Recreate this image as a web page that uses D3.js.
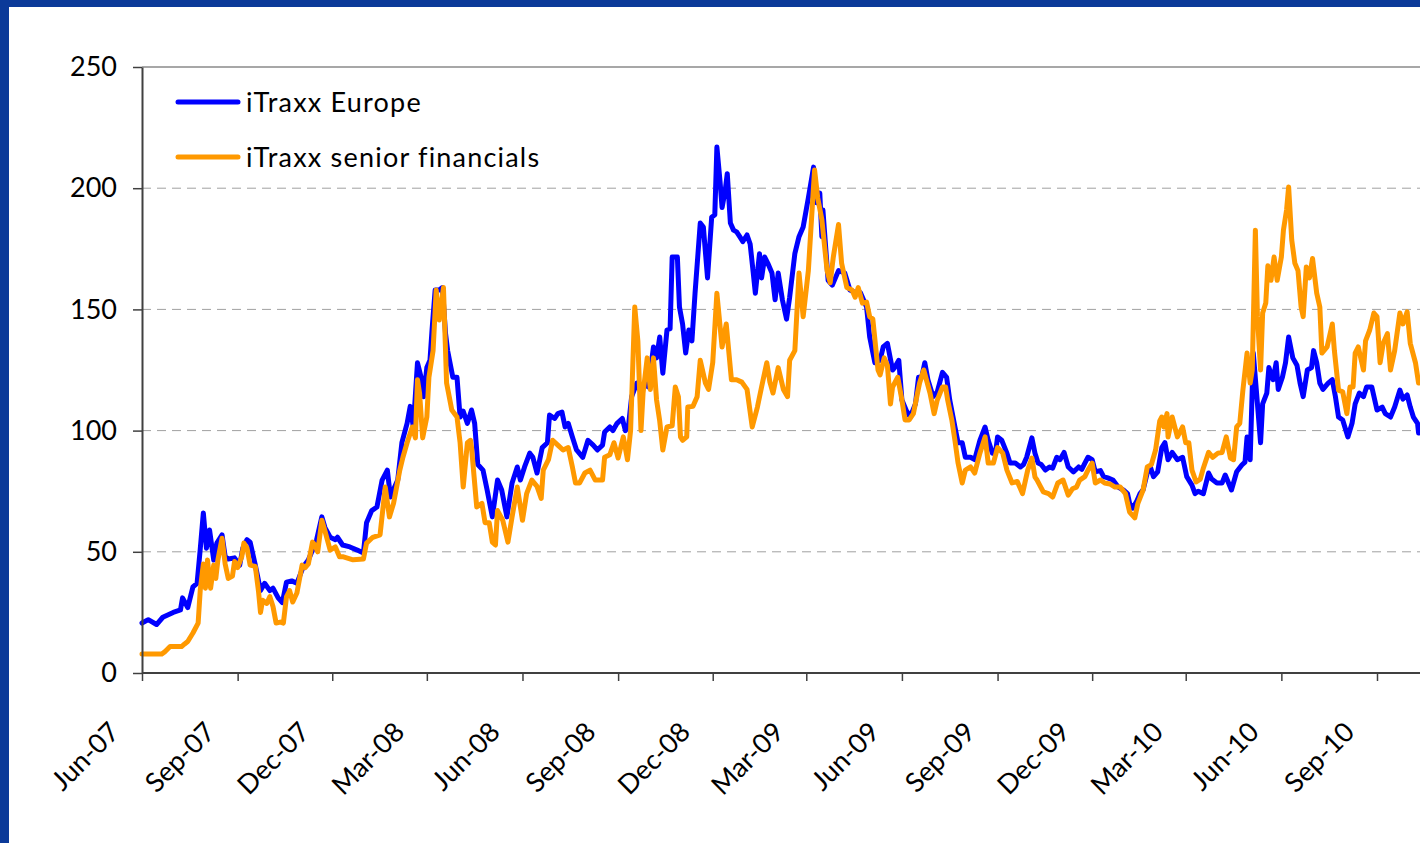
<!DOCTYPE html>
<html>
<head>
<meta charset="utf-8">
<script src="https://cdn.jsdelivr.net/npm/d3@7"></script>
<style>
    html, body { margin: 0; padding: 0; background: #0b3a99; overflow: hidden; }
    svg { display: block; }
</style>
</head>
<body>
<script>
// values: [days since start, spread in bp]
const startDate = "2007-06-01";
const tickLabels = ["Jun-07", "Sep-07", "Dec-07", "Mar-08", "Jun-08", "Sep-08", "Dec-08",
    "Mar-09", "Jun-09", "Sep-09", "Dec-09", "Mar-10", "Jun-10", "Sep-10"];
const yTicks = [0, 50, 100, 150, 200, 250];
const seriesNames = ["iTraxx Europe", "iTraxx senior financials"];
const seriesColours = ["#0000ff", "#ff9900"];

const europe = [[0,20.6],[6,22],[14,20],[20,23],[30,25],[37,26],[39,31],[44,27],[49,35.5],[53,37],[56,51],[59,66],[62,51.5],[65,59],[69,46.6],[72,53.6],[77,57],[80,48],[83,47],[89,47.5],[94,44.5],[97,51.5],[101,55],[104,54],[109,44.5],[114,34],[118,37],[123,34],[126,35],[131,31],[135,29],[139,37.5],[144,38],[149,37],[152,40.4],[155,43.7],[160,46.6],[164,50.7],[168,55],[173,64.4],[176,60],[181,56],[186,55],[188,56],[193,52.8],[200,52],[207,50.7],[213,49.5],[216,62],[221,67],[226,68.5],[231,79.6],[236,83.7],[239,72.6],[243,76.7],[246,79.6],[250,95],[255,103],[258,110],[261,101.5],[265,128],[269,121],[271,114],[274,126],[277,129],[279,141.5],[282,158],[286,158],[289,159],[292,140],[294,133],[299,122],[303,122],[306,105.6],[309,108],[313,103],[317,108.5],[320,103],[323,86],[328,83.7],[332,75.5],[337,64.4],[342,79.6],[346,75.5],[351,64.4],[356,78.4],[361,85],[364,79.6],[368,85],[373,90.7],[376,89],[380,82.5],[385,93],[390,95],[392,106.4],[397,105],[400,107],[404,107.6],[407,101.5],[410,103],[414,97.4],[418,92],[424,89],[429,96],[434,94],[438,92],[443,94],[445,99.4],[450,101.5],[453,100],[457,103],[462,105],[465,100],[468,102],[471,114],[476,119.6],[479,117],[483,119.6],[487,118],[492,134.5],[495,130],[498,138.6],[501,123.7],[505,141.5],[508,142],[510,171.6],[515,171.6],[517,151],[520,144],[523,132],[526,141.5],[529,137],[532,156.7],[537,185.6],[540,184],[544,163],[548,188],[551,189],[553,217],[556,203],[558,192],[561,199],[563,206],[566,185.6],[569,182.7],[572,182],[575,180],[578,178],[582,180.7],[585,177],[588,165],[590,156.7],[592,165],[594,173],[596,163],[599,171.6],[602,169],[606,165],[609,154],[612,165],[616,154],[620,146],[623,155],[628,173],[632,180],[636,184],[641,196],[646,208.7],[649,194],[652,198],[654,180],[655,191],[660,162],[664,160],[670,166],[676,165],[681,158],[686,157],[691,157],[697,151],[700,138.6],[705,128],[710,129],[713,134.5],[717,136],[722,125],[724,126],[728,129],[731,112.6],[735,108.5],[739,105.6],[744,111],[747,122],[750,122],[753,128],[756,121],[761,114],[765,116],[770,124],[774,122],[777,112.6],[782,101.5],[785,95],[789,95],[792,89],[797,89],[801,88],[806,96],[811,101.5],[814,96],[818,90.7],[821,90.7],[823,97.4],[827,96],[832,90.7],[835,86.6],[840,86.6],[845,85],[848,86],[851,89],[856,97],[859,90.7],[862,86.6],[865,86],[869,83.7],[873,85],[876,84.5],[880,89],[883,88],[887,91],[891,85],[896,83],[901,85],[904,84],[907,86.6],[910,89],[914,88],[917,83],[922,83.5],[925,81],[929,80.5],[934,79.6],[939,76.7],[944,75.5],[948,74],[950,70],[953,68],[957,71],[960,74],[963,75.5],[967,82.5],[970,85],[973,81],[977,83],[981,93],[984,95],[987,88],[991,91],[996,88],[1001,89],[1005,81],[1010,77.5],[1013,74],[1016,75],[1021,74],[1026,82.5],[1029,80],[1034,78.4],[1039,78.4],[1042,81.7],[1048,75.5],[1053,83],[1058,85.8],[1061,87],[1063,97.4],[1066,88],[1069,132],[1073,111],[1076,95],[1078,111],[1082,115.5],[1084,126],[1088,121],[1091,128],[1093,117],[1097,122],[1100,128],[1103,138.6],[1107,130],[1111,127],[1114,119.6],[1117,114],[1121,125],[1125,126],[1127,133],[1130,128],[1133,119.6],[1136,117],[1141,119.6],[1145,121],[1148,114],[1151,105.6],[1155,104.4],[1160,97.4],[1164,103],[1167,111],[1171,115.5],[1175,114],[1178,118],[1183,118],[1188,108.5],[1193,109.7],[1196,107],[1201,105.6],[1205,109.7],[1210,116.7],[1213,113],[1217,114.7],[1220,109.7],[1223,105.6],[1227,103],[1228,99]];

const financials = [[0,7.8],[19,7.8],[22,8.8],[27,10.9],[38,10.9],[41,12],[44,13],[49,16.5],[54,20.6],[56,34],[59,45],[61,35],[63,46.6],[66,35],[69,44.5],[71,39],[73,46.6],[77,55.6],[80,45],[83,39],[87,40],[89,46],[92,43.5],[96,48],[98,53.6],[101,51.5],[104,44.5],[109,44],[112,34],[114,25],[116,30],[120,28.7],[123,31.5],[126,27.4],[129,20.6],[133,21],[136,20.6],[139,31.5],[142,34],[145,29.3],[149,33],[154,44.5],[157,43.5],[160,45],[164,54],[166,53],[169,50],[173,63],[176,58.6],[181,50.7],[186,52],[190,48],[193,48],[203,46.7],[213,47],[216,53.6],[222,56],[229,57],[234,76.7],[238,64.4],[242,70],[248,83.7],[251,89],[255,95],[260,101.5],[263,97],[265,121],[267,115.5],[270,97],[274,105.6],[276,122],[280,133],[283,158],[286,145.6],[290,159],[293,119.6],[298,108.5],[303,105.6],[306,95],[309,76.7],[313,95],[316,96],[317,93],[322,68.5],[327,70],[330,62],[334,62],[337,54],[340,52.8],[342,67],[347,63],[352,54],[356,64.4],[361,76.7],[366,63],[370,74],[375,79.6],[380,77],[384,72],[386,83.7],[391,88],[395,96],[400,94],[405,92],[410,93],[414,85],[417,78.4],[421,78.4],[426,82.5],[431,83.7],[436,79.6],[443,79.6],[445,89],[450,90],[454,95],[458,88.7],[463,97.4],[467,88],[470,100],[474,151],[477,137],[480,100],[482,115.5],[486,130],[489,117],[492,130],[495,112.6],[498,104],[501,92],[505,101.5],[510,102],[513,118],[516,114],[518,97.4],[520,96],[524,97.4],[525,109.7],[530,110],[534,114],[537,129],[542,119.6],[545,117],[549,128],[553,156.7],[558,134.5],[562,144],[567,121],[572,121],[577,120],[582,117],[587,101.5],[592,109.7],[596,118],[601,128],[604,120],[607,115.5],[612,126],[617,117],[621,114],[623,129],[628,133],[632,165],[636,147],[641,166],[645,194],[647,207.5],[650,196],[654,187],[659,166],[662,161],[665,171.6],[670,185],[673,169],[678,159],[683,158],[686,155],[689,159],[693,152.6],[697,153],[700,147],[703,146],[708,125],[710,123],[714,130],[717,127],[720,111],[722,118],[727,122],[731,112.6],[734,104.4],[738,104.4],[742,107],[746,115.5],[748,119.6],[752,125],[758,115.5],[762,107],[765,112.6],[770,118],[773,118],[775,112.6],[779,104.4],[782,96],[785,86.6],[789,78.4],[792,83.7],[797,85],[801,82.5],[806,90.7],[811,97.4],[814,86.6],[819,86.6],[823,93],[828,90.7],[832,83.7],[837,78.4],[842,79],[847,74],[852,83.7],[856,88.7],[859,80.8],[861,79.6],[867,74.7],[872,74],[876,72.6],[881,78.4],[886,79.6],[891,73.4],[895,76],[899,76.7],[902,79.6],[907,81],[910,83.7],[914,86.6],[917,78.4],[922,79.6],[926,78.4],[931,78],[936,76.7],[941,76.7],[946,74],[950,66.4],[955,64],[958,70],[963,75.5],[967,85],[971,86],[975,92],[979,104],[981,105.6],[983,101.5],[986,107],[987,97.4],[991,105.6],[996,97.4],[1001,101.5],[1004,95],[1007,95],[1010,83.7],[1014,78.8],[1018,80],[1021,84.6],[1026,91],[1030,89],[1035,90.7],[1039,91],[1043,97.4],[1047,88.7],[1050,88],[1053,101.5],[1056,103],[1059,116.7],[1063,132],[1066,119.6],[1068,125],[1071,182.7],[1073,147],[1076,125],[1078,148.5],[1081,152.6],[1083,168],[1086,162],[1089,171.6],[1092,162],[1096,171.6],[1098,182.7],[1101,191],[1103,200.5],[1106,178.6],[1109,169],[1112,166],[1115,151],[1117,147],[1120,167.5],[1123,163],[1126,171],[1130,156.7],[1133,151],[1135,132],[1140,134.5],[1145,144],[1147,133],[1151,116.7],[1155,116],[1159,107],[1162,118],[1165,118],[1167,132],[1170,134.5],[1175,125],[1177,137],[1181,141.5],[1185,148.5],[1188,147],[1191,128],[1194,136],[1198,140],[1201,125],[1205,133],[1210,148.5],[1213,144],[1217,149],[1220,136],[1225,128],[1228,119.6]];

let width = 1420,
    height = 843,
    margins = {top: 67, left: 142, bottom: 673, right: 1440},
    font = "Lato, 'Open Sans', sans-serif";

let parseDay = d3.timeParse("%Y-%m-%d"),
    parseTick = d3.timeParse("%b-%y");
let start = parseDay(startDate);
let tickDates = tickLabels.map(parseTick);

// Jun-07 sits on the y axis, Sep-10 is the last labelled tick
let xScale = d3.scaleTime([tickDates[0], tickDates[tickDates.length - 1]], [margins.left, 1377]);
let yScale = d3.scaleLinear([0, 250], [margins.bottom, margins.top]);

let chart = d3.select("body").append("svg")
    .attr("width", width)
    .attr("height", height);

// blue slide frame + white panel
chart.append("rect").attr("width", width).attr("height", height).attr("fill", "#0b3a99");
chart.append("rect").attr("x", 9).attr("y", 7).attr("width", width).attr("height", height).attr("fill", "#ffffff");

// gridlines
chart.append("g").selectAll("line")
    .data(yTicks.filter(d => d > 0))
    .join("line")
    .attr("x1", margins.left).attr("x2", margins.right)
    .attr("y1", d => yScale(d)).attr("y2", d => yScale(d))
    .attr("stroke", d => d == 250 ? "#8a8a8a" : "#a0a0a0")
    .attr("stroke-width", d => d == 250 ? 1.5 : 1)
    .attr("stroke-dasharray", d => d == 250 ? null : "9,6");

// series
let line = d3.line()
    .x(d => xScale(d3.timeDay.offset(start, d[0])))
    .y(d => yScale(d[1]));

chart.append("g").selectAll("path")
    .data([europe, financials])
    .join("path")
    .attr("d", line)
    .attr("fill", "none")
    .attr("stroke", (d, i) => seriesColours[i])
    .attr("stroke-width", 5)
    .attr("stroke-linejoin", "round")
    .attr("stroke-linecap", "round");

// y axis
let yAxis = chart.append("g")
    .attr("transform", translate(margins.left, 0))
    .call(d3.axisLeft(yScale).tickValues(yTicks).tickSize(9).tickPadding(16).tickSizeOuter(0));
yAxis.select(".domain").attr("stroke", "#404040").attr("stroke-width", 2);
yAxis.selectAll(".tick line").attr("stroke", "#404040").attr("stroke-width", 1.5);
yAxis.selectAll("text")
    .attr("font-family", font)
    .attr("font-size", 27)
    .attr("fill", "#000");

// x axis
let xAxis = chart.append("g")
    .attr("transform", translate(0, margins.bottom))
    .call(d3.axisBottom(xScale).tickValues(tickDates).tickSize(8).tickSizeOuter(0)
        .tickFormat((d, i) => tickLabels[i]));
xAxis.select(".domain")
    .attr("d", `M${margins.left},0H${margins.right}`)
    .attr("stroke", "#404040").attr("stroke-width", 2);
xAxis.selectAll(".tick line").attr("stroke", "#404040").attr("stroke-width", 1.5);
xAxis.selectAll("text")
    .attr("font-family", font)
    .attr("font-size", 27)
    .attr("fill", "#000")
    .attr("text-anchor", "end")
    .attr("x", 0).attr("y", 0).attr("dy", "0.35em")
    .attr("transform", "translate(-28,54) rotate(-45)");

// legend
let legend = chart.append("g").selectAll("g")
    .data(seriesNames)
    .join("g")
    .attr("transform", (d, i) => translate(178, 102 + i * 55));
legend.append("line")
    .attr("x1", 0).attr("x2", 60)
    .attr("stroke", (d, i) => seriesColours[i])
    .attr("stroke-width", 5)
    .attr("stroke-linecap", "round");
legend.append("text")
    .text(d => d)
    .attr("x", 68)
    .attr("dy", "0.36em")
    .attr("font-family", font)
    .attr("font-size", 27)
    .attr("letter-spacing", 1.2)
    .attr("fill", "#000");

function translate(x, y) {
    return `translate(${x}, ${y})`;
}
</script>
</body>
</html>
